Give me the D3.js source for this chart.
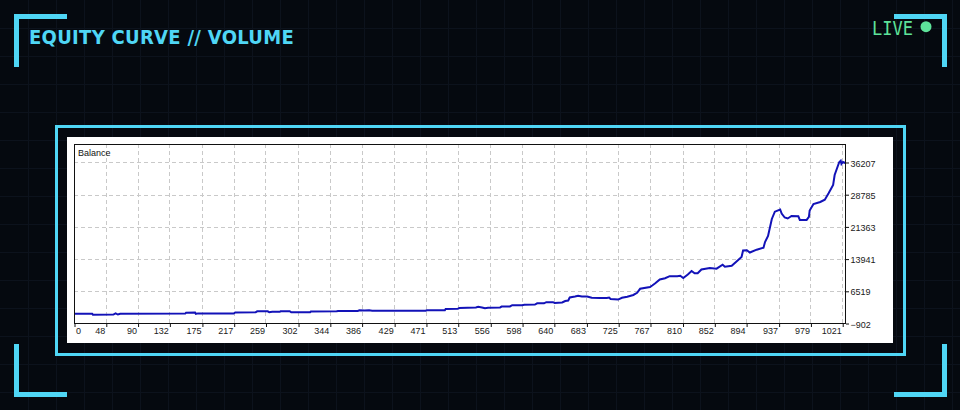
<!DOCTYPE html>
<html>
<head>
<meta charset="utf-8">
<script src="https://cdn.jsdelivr.net/npm/d3@7"></script>
<style>
html, body { margin: 0; padding: 0; background: #05090f; }
svg { display: block; }
</style>
</head>
<body>
<svg id="chart" width="960" height="410"></svg>
<script>
// trade number / balance
var tradeNo = [0,30,31,58,61,64,67,153,154,166,167,170,217,219,246,248,262,264,268,278,279,291,293,318,319,353,355,381,383,390,396,400,471,472,496,497,513,515,537,540,545,549,553,569,571,582,585,598,601,615,618,627,630,639,641,651,655,659,661,668,672,677,684,690,701,710,713,715,725,730,737,745,750,754,767,770,774,780,787,793,803,807,811,817,822,826,830,835,846,855,863,866,875,881,888,890,895,899,908,917,919,923,928,932,939,941,945,949,954,963,965,974,977,978,983,992,998,1003,1009,1011,1017,1019,1020,1022,1025];
var balance = [1360,1360,1130,1150,1450,1170,1360,1380,1560,1610,1330,1430,1400,1630,1680,1910,1910,1680,1800,1800,1930,1930,1680,1680,1860,1930,2000,2000,2140,2070,2140,2050,2050,2160,2160,2440,2490,2670,2790,2950,2790,2630,2740,2790,2990,3020,3320,3290,3410,3460,3750,3750,4010,4010,3820,3940,4280,4400,5090,5320,5510,5320,5320,5020,4980,4980,5090,4750,4610,5020,5280,5670,6170,7100,7510,7860,8360,9240,9520,10000,9980,10090,9590,10390,11200,10670,10670,11550,11890,11730,12650,12190,12420,13340,14430,15930,15970,15460,16110,16570,17880,19270,23190,24870,25380,24450,23530,23300,23880,23810,22960,22960,23650,25150,26640,27100,27630,29110,31020,33330,36260,36600,35860,36320,36090];
var xTicks = [0,48,90,132,175,217,259,302,344,386,429,471,513,556,598,640,683,725,767,810,852,894,937,979,1021];
var yTicks = [-902,6519,13941,21363,28785,36207];
var seriesName = "Balance";

var svg = d3.select("#chart"),
    W = 960, H = 410;
var cyan = "#4fd6f5";

// faint background grid
var bg = svg.append("g");
bg.selectAll("line.v").data(d3.range(28, W, 28)).enter().append("line")
    .attr("x1", function(d){ return d + 0.5; }).attr("x2", function(d){ return d + 0.5; })
    .attr("y1", 0).attr("y2", H)
    .attr("stroke", "#0c121c").attr("stroke-width", 1);
bg.selectAll("line.h").data(d3.range(28, H, 28)).enter().append("line")
    .attr("y1", function(d){ return d + 0.5; }).attr("y2", function(d){ return d + 0.5; })
    .attr("x1", 0).attr("x2", W)
    .attr("stroke", "#0c121c").attr("stroke-width", 1);

// corner brackets
var brackets = ["M16.5,67V16.5H67", "M894,16.5H944.5V67", "M16.5,344V394.5H67", "M894,394.5H944.5V344"];
svg.selectAll("path.bracket").data(brackets).enter().append("path")
    .attr("d", function(d){ return d; })
    .attr("fill", "none").attr("stroke", cyan).attr("stroke-width", 5);

// header
svg.append("text")
    .attr("x", 29).attr("y", 44)
    .attr("font-family", "'DejaVu Sans Condensed', 'DejaVu Sans', sans-serif")
    .attr("font-stretch", "condensed")
    .attr("font-weight", "bold").attr("font-size", 20)
    .attr("letter-spacing", 0.3)
    .attr("fill", cyan)
    .text("EQUITY CURVE // VOLUME");

svg.append("text")
    .attr("x", 872).attr("y", 35)
    .attr("font-family", "'DejaVu Sans Mono', monospace")
    .attr("font-size", 19)
    .attr("textLength", 41).attr("lengthAdjust", "spacingAndGlyphs")
    .attr("fill", "#5ee39a")
    .text("LIVE");
svg.append("circle").attr("cx", 926).attr("cy", 26.7).attr("r", 5.5).attr("fill", "#5ee39a");

// panel
svg.append("rect").attr("x", 56.5).attr("y", 126.5).attr("width", 848).attr("height", 228)
    .attr("fill", "none").attr("stroke", cyan).attr("stroke-width", 3);
svg.append("rect").attr("x", 67).attr("y", 137).attr("width", 826).attr("height", 206)
    .attr("fill", "#ffffff");

// plot area
var pL = 74, pR = 846, pT = 144, pB = 323.5;
var x = d3.scaleLinear().domain([6, 1026]).range([pL, pR]).clamp(true);
var y = d3.scaleLinear().domain([-902, 40470]).range([pB, pT]);

var grid = svg.append("g").attr("stroke", "#c9c9c9").attr("stroke-width", 1).attr("stroke-dasharray", "4,3");
grid.selectAll("line.gx").data(xTicks.slice(1)).enter().append("line")
    .attr("x1", function(d){ return Math.round(x(d)) + 0.5; })
    .attr("x2", function(d){ return Math.round(x(d)) + 0.5; })
    .attr("y1", pT).attr("y2", pB);
grid.selectAll("line.gy").data(yTicks.slice(1)).enter().append("line")
    .attr("y1", function(d){ return Math.round(y(d)) + 0.5; })
    .attr("y2", function(d){ return Math.round(y(d)) + 0.5; })
    .attr("x1", pL).attr("x2", pR);

var line = d3.line()
    .x(function(d, i){ return x(tradeNo[i]); })
    .y(function(d){ return y(d); });
svg.append("path")
    .datum(balance)
    .attr("d", line)
    .attr("fill", "none")
    .attr("stroke", "#1212b8")
    .attr("stroke-width", 2)
    .attr("stroke-linejoin", "miter");

svg.append("rect").attr("x", pL + 0.5).attr("y", pT + 0.5)
    .attr("width", pR - pL - 1).attr("height", pB - pT - 0.5)
    .attr("fill", "none").attr("stroke", "#111").attr("stroke-width", 1);

var tickFont = "'Liberation Sans', Arial, sans-serif";

// bottom axis
var xAxis = svg.append("g")
    .attr("transform", "translate(0," + Math.round(pB) + ")")
    .call(d3.axisBottom(x).tickValues(xTicks).tickSize(3).tickSizeOuter(0).tickFormat(d3.format("d")));
xAxis.select(".domain").remove();
xAxis.selectAll(".tick line").attr("stroke", "#111")
    .attr("transform", "translate(0.5,0)");
xAxis.selectAll(".tick text")
    .attr("font-family", tickFont).attr("font-size", 9).attr("fill", "#1a1a1a")
    .attr("y", 4).attr("dy", "0.71em")
    .attr("text-anchor", function(d){ return d === 0 ? "start" : "end"; })
    .attr("dx", function(d){ return d === 0 ? 1.5 : -1; });

// right axis
var yAxis = svg.append("g")
    .attr("transform", "translate(" + pR + ",0)")
    .call(d3.axisRight(y).tickValues(yTicks).tickSize(3).tickSizeOuter(0).tickFormat(d3.format("d")));
yAxis.select(".domain").remove();
yAxis.selectAll(".tick line").attr("stroke", "#111");
yAxis.selectAll(".tick text")
    .attr("font-family", tickFont).attr("font-size", 9).attr("fill", "#1a1a1a")
    .attr("x", 4.5).attr("dy", "0.4em");

svg.append("text")
    .attr("x", 78).attr("y", 156)
    .attr("font-family", tickFont).attr("font-size", 9).attr("fill", "#111")
    .text(seriesName);
</script>
</body>
</html>
